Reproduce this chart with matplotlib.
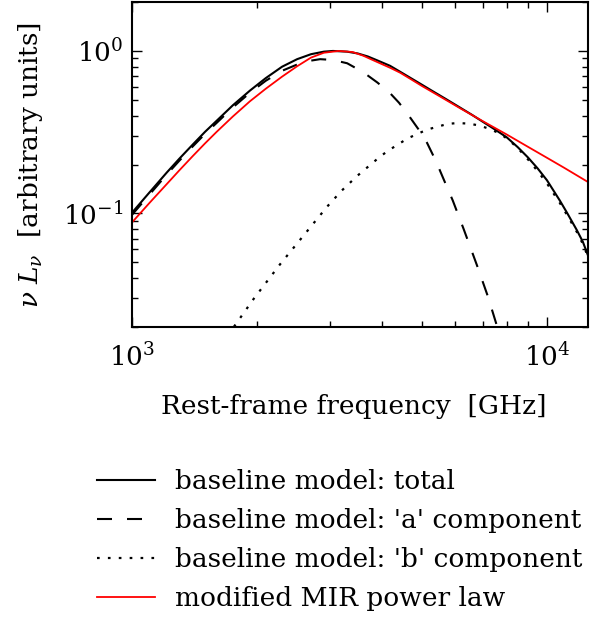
import matplotlib
matplotlib.use("Agg")
import matplotlib.pyplot as plt

plt.rcParams['font.family'] = ['DejaVu Serif']
plt.rcParams['mathtext.fontset'] = 'dejavuserif'
plt.rcParams['font.size'] = 19
plt.rcParams['axes.unicode_minus'] = False

# frequencies in GHz, values in arbitrary units
nu_total = [1000, 1100, 1214, 1300, 1400, 1500, 1600, 1750, 1924, 2100, 2300, 2500,
            2700, 2900, 3050, 3300, 3500, 3700, 3900, 4187, 4426, 4700, 5000, 5300,
            5700, 6166, 6600, 7000, 7500, 8000, 8500, 9000, 9500, 10000, 10740, 11200,
            11800, 12200, 12560]
L_total = [0.101, 0.134, 0.179, 0.217, 0.265, 0.318, 0.372, 0.463, 0.57, 0.68, 0.80,
           0.89, 0.955, 0.99, 1.0, 0.99, 0.965, 0.925, 0.875, 0.81, 0.745, 0.68, 0.619,
           0.566, 0.507, 0.449, 0.404, 0.367, 0.328, 0.294, 0.256, 0.221, 0.189, 0.16,
           0.12, 0.10, 0.079, 0.067, 0.055]

nu_a = [1000, 1100, 1214, 1300, 1400, 1500, 1600, 1750, 1924, 2100, 2300, 2500, 2700,
        2840, 3050, 3300, 3607, 3900, 4159, 4400, 4645, 4900, 5140, 5400, 5650, 5930,
        6300, 6780, 7200, 7590, 8000]
L_a = [0.098, 0.130, 0.174, 0.211, 0.258, 0.309, 0.361, 0.449, 0.553, 0.655, 0.755,
       0.825, 0.872, 0.89, 0.88, 0.84, 0.74, 0.64, 0.56, 0.48, 0.40, 0.33, 0.272, 0.21,
       0.16, 0.12, 0.08, 0.048, 0.031, 0.02, 0.012]

nu_b = [1700, 1771, 1968, 2275, 2641, 2952, 3200, 3487, 3963, 4159, 4620, 5140, 5770,
        6103, 6486, 6896, 7295, 7710, 8095, 8511, 9000, 9500, 10000, 10740, 11200,
        11800, 12200, 12560]
L_b = [0.0177, 0.0205, 0.030, 0.0487, 0.0776, 0.110, 0.138, 0.170, 0.224, 0.245, 0.29,
       0.328, 0.356, 0.36, 0.357, 0.347, 0.330, 0.31, 0.283, 0.252, 0.215, 0.182,
       0.153, 0.116, 0.097, 0.077, 0.065, 0.054]

nu_mir = [1000, 1100, 1214, 1300, 1400, 1500, 1600, 1750, 1924, 2100, 2300, 2500,
          2700, 2900, 3150, 3400, 3607, 3800, 4000, 4200, 4426, 4700, 5000, 5500,
          6166, 7000, 8000, 9000, 10000, 11000, 12560]
L_mir = [0.088, 0.1155, 0.152, 0.184, 0.225, 0.27, 0.318, 0.395, 0.49, 0.585, 0.695,
         0.805, 0.91, 0.975, 1.0, 0.985, 0.935, 0.88, 0.83, 0.785, 0.735, 0.67, 0.608,
         0.528, 0.445, 0.37, 0.306, 0.257, 0.22, 0.191, 0.156]

fig = plt.figure(figsize=(5.9, 6.17), dpi=100)
ax = fig.add_axes([0.2237, 0.47, 0.773, 0.5267])

ax.plot(nu_total, L_total, color='black', lw=1.5, label='baseline model: total')
ax.plot(nu_a, L_a, color='black', lw=1.5, linestyle=(0, (7.2, 7.2)),
        label="baseline model: 'a' component")
ax.plot(nu_b, L_b, color='black', lw=1.6, linestyle=(0, (1.2, 3.7)),
        label="baseline model: 'b' component")
ax.plot(nu_mir, L_mir, color='red', lw=1.3, label='modified MIR power law')

ax.set_xscale('log')
ax.set_yscale('log')
ax.set_xlim(1000, 12560)
ax.set_ylim(0.02, 2.0)

for s in ax.spines.values():
    s.set_linewidth(1.5)
ax.tick_params(which='both', direction='in', top=True, right=True, width=1)
ax.tick_params(which='major', length=7, pad=11.5)
ax.tick_params(which='minor', length=4)
ax.tick_params(axis='y', which='major', pad=6)

ax.set_xlabel('Rest-frame frequency  [GHz]')
ax.xaxis.set_label_coords(0.487, -0.205)
ax.set_ylabel(r'$\nu\ L_\nu$  [arbitrary units]', labelpad=13)

ax.legend(loc='upper left', bbox_to_anchor=(-0.10, -0.404), frameon=False,
          handlelength=2.2, handletextpad=0.76, labelspacing=0.53, borderaxespad=0)

fig.savefig('out.png', dpi=100)
